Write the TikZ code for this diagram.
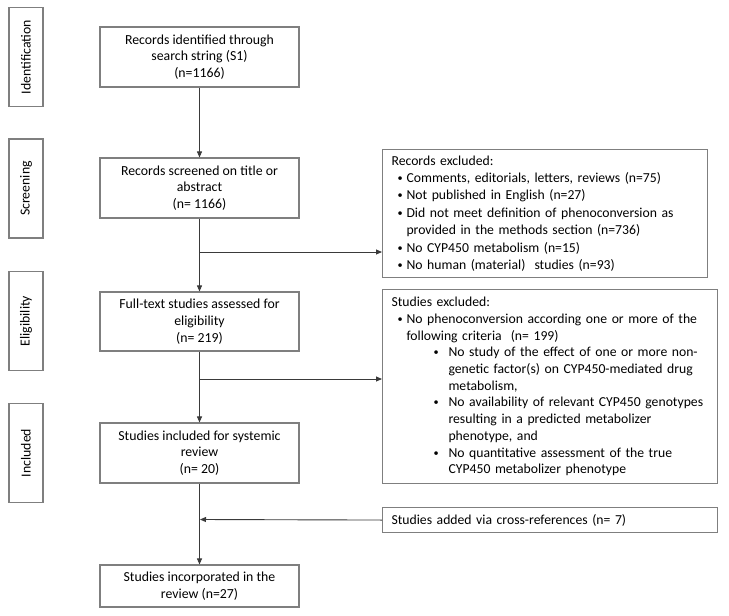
\documentclass[tikz,border=0pt]{standalone}
\usepackage{fontspec}
\usepackage{graphicx}
\setmainfont{Carlito}
\usetikzlibrary{arrows.meta}
\definecolor{boxgray}{HTML}{7F7F7F}
\definecolor{linegray}{HTML}{3A3A3A}
\newcommand{\bdot}{\raisebox{0.15ex}{\scalebox{0.75}{•}}}
\newcommand{\bl}{\makebox[15pt][l]{\hspace*{6pt}\bdot}}
\newcommand{\cont}{\hspace*{15pt}}
\newcommand{\sbl}{\hspace*{42pt}\makebox[15pt][l]{\bdot}}
\newcommand{\scont}{\hspace*{57pt}}
\begin{document}
\begin{tikzpicture}[x=1pt,y=-1pt,
  box/.style={draw=boxgray, line width=1.1pt, inner sep=0pt, fill=white},
  mainbox/.style={box, minimum width=199pt, align=center,
    font=\fontsize{13.8}{16.8}\selectfont},
  sidebox/.style={box, rotate=90, minimum width=99pt, minimum height=34pt,
    font=\fontsize{13.8}{16.8}\selectfont},
  listbox/.style={box, anchor=north west, align=left, inner xsep=9pt},
  conn/.style={draw=linegray, line width=0.9pt},
  arr/.style={conn, -{Triangle[length=6pt,width=5pt]}}]
\useasboundingbox (0,0) rectangle (729,616);
\fill[white] (0,0) rectangle (729,616);

% side labels
\node[sidebox] (s1) at (26,57) {Identification};
\node[sidebox] (s2) at (26,188.5) {Screening};
\node[sidebox] (s3) at (26,321) {Eligibility};
\node[sidebox] (s4) at (26,453) {Included};

% main boxes
\node[mainbox, minimum height=60pt] (b1) at (199.5,57) {Records identified through\\search string (S1)\\(n=1166)};
\node[mainbox, minimum height=60pt] (b2) at (199.5,188) {Records screened on title or\\abstract\\(n= 1166)};
\node[mainbox, minimum height=59pt] (b3) at (199.5,321.5) {Full-text studies assessed for\\eligibility\\(n= 219)};
\node[mainbox, minimum height=60pt] (b4) at (199.5,453) {Studies included for systemic\\review\\(n= 20)};
\node[mainbox, minimum height=42pt] (b5) at (199.5,586) {Studies incorporated in the\\review (n=27)};

% right boxes
\node[listbox, minimum width=325pt, minimum height=128pt, text width=307pt,
  font=\fontsize{13.7}{17.4}\selectfont] (r1) at (382,149) {Records excluded:\\
\bl Comments, editorials, letters, reviews (n=75)\\
\bl Not published in English (n=27)\\
\bl Did not meet definition of phenoconversion as\\
\cont provided in the methods section (n=736)\\
\bl No CYP450 metabolism (n=15)\\
\bl No human (material)\ \ studies (n=93)};

\node[listbox, minimum width=335pt, minimum height=194pt, text width=317pt,
  font=\fontsize{13.7}{16.7}\selectfont] (r2) at (382,289) {Studies excluded:\\
\bl No phenoconversion according one or more of the\\
\cont following criteria\ \ (n= 199)\\
\sbl No study of the effect of one or more non-\\
\scont genetic factor(s) on CYP450-mediated drug\\
\scont metabolism,\\
\sbl No availability of relevant CYP450 genotypes\\
\scont resulting in a predicted metabolizer\\
\scont phenotype, and\\
\sbl No quantitative assessment of the true\\
\scont CYP450 metabolizer phenotype};

\node[listbox, minimum width=335pt, minimum height=25pt, text width=317pt,
  font=\fontsize{13.7}{16.7}\selectfont] (r3) at (382,507) {Studies added via cross-references (n= 7)};

% junctions
\coordinate (j1) at (199.5,252);
\coordinate (j2) at (199.5,379);
\coordinate (j3) at (199.5,519.5);

% connectors
\draw[arr] (b1.south) -- (b2.north);
\draw[arr] (b2.south) -- (b3.north);
\draw[arr] (b3.south) -- (b4.north);
\draw[arr] (b4.south) -- (b5.north);
\draw[arr] (j1) -- (j1 -| r1.west);
\draw[arr] (j2) -- (j2 -| r2.west);
\draw[arr] (r3.west) -- ([xshift=0.5pt]j3);
\end{tikzpicture}
\end{document}
